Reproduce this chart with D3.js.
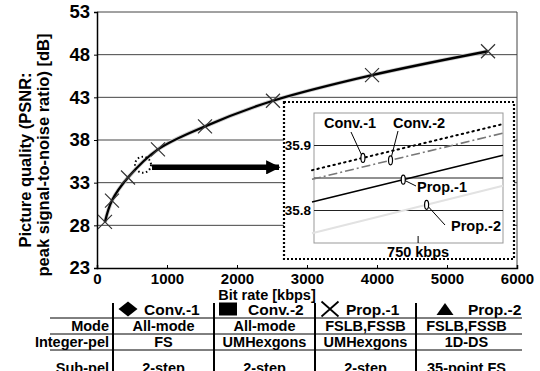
<!DOCTYPE html>
<html>
<head>
<meta charset="utf-8">
<script src="https://cdn.jsdelivr.net/npm/d3@7"></script>
<style>
  html, body { margin: 0; padding: 0; background: #fff; overflow: hidden; }
  svg { display: block; font-family: "Liberation Sans", Arial, sans-serif; font-weight: bold; }
</style>
</head>
<body>
<svg id="chart" width="540" height="371"></svg>
<script>
// main chart data (Prop.-1, the other curves overlap it at this scale)
const bitrate = [114, 214, 443, 871, 1543, 2514, 3929, 5586];
const psnr = [28.4, 30.9, 33.6, 36.9, 39.6, 42.6, 45.6, 48.4];
const yTicks = [23, 28, 33, 38, 43, 48, 53];
const xTicks = [0, 1000, 2000, 3000, 4000, 5000, 6000];

// inset: zoom around 750 kbps
const insetNames = ["Conv.-1", "Conv.-2", "Prop.-1", "Prop.-2"];
const insetRate = [700, 790];
const insetConv1 = [35.862, 35.933];
const insetConv2 = [35.848, 35.919];
const insetProp1 = [35.813, 35.885];
const insetProp2 = [35.765, 35.838];
const insetCallout = [724, 737, 743, 754];
const insetYTicks = [35.8, 35.9];
const insetGrid = [35.8, 35.85, 35.9];

// table under the chart
const tableHeads = ["Conv.-1", "Conv.-2", "Prop.-1", "Prop.-2"];
const rowLabels = ["Mode", "Integer-pel", "Sub-pel"];
const modeRow = ["All-mode", "All-mode", "FSLB,FSSB", "FSLB,FSSB"];
const integerRow = ["FS", "UMHexgons", "UMHexgons", "1D-DS"];
const subRow = ["2-step", "2-step", "2-step", "35-point FS"];

const svg = d3.select("#chart");

const x = d3.scaleLinear().domain([0, 6000]).range([97, 517]);
const y = d3.scaleLinear().domain([23, 53]).range([268, 12]);

// grid lines
svg.append("g").selectAll("line")
  .data(yTicks.slice(1))
  .enter().append("line")
  .attr("x1", x(0)).attr("x2", x(6000))
  .attr("y1", d => y(d)).attr("y2", d => y(d))
  .attr("stroke", "#444").attr("stroke-width", 1);

svg.append("line")
  .attr("x1", x(6000)).attr("x2", x(6000))
  .attr("y1", y(53)).attr("y2", y(23))
  .attr("stroke", "#444").attr("stroke-width", 1);

// y axis
const yAxis = svg.append("g")
  .attr("transform", "translate(" + x(0) + ",0)")
  .call(d3.axisLeft(y).tickValues(yTicks).tickSize(3).tickPadding(4));
yAxis.select(".domain").attr("stroke", "#000").attr("stroke-width", 1.5);
yAxis.selectAll("text").attr("font-size", 18.5).attr("font-family", "Liberation Sans").attr("font-weight", "bold").attr("fill", "#000");

// x axis, ticks point inward
const xAxis = svg.append("g")
  .attr("transform", "translate(0," + y(23) + ")")
  .call(d3.axisBottom(x).tickValues(xTicks).tickFormat(d3.format("d")).tickSize(-3).tickPadding(5));
xAxis.select(".domain").attr("stroke", "#000").attr("stroke-width", 1.5);
xAxis.selectAll("text").attr("font-size", 15).attr("font-family", "Liberation Sans").attr("font-weight", "bold").attr("fill", "#000");

// axis titles
svg.append("text")
  .attr("transform", "translate(25,160) rotate(-90)")
  .attr("text-anchor", "middle").attr("dy", "0.35em")
  .attr("font-size", 16.5)
  .text("Picture quality (PSNR:");
svg.append("text")
  .attr("transform", "translate(43,155) rotate(-90)")
  .attr("text-anchor", "middle").attr("dy", "0.35em")
  .attr("font-size", 16.5)
  .text("peak signal-to-noise ratio) [dB]");
svg.append("text")
  .attr("x", 267).attr("y", 300)
  .attr("text-anchor", "middle")
  .attr("font-size", 14.5)
  .text("Bit rate [kbps]");

// main curve
const pts = bitrate.map((b, i) => [b, psnr[i]]);
const line = d3.line()
  .x(d => x(d[0])).y(d => y(d[1]))
  .curve(d3.curveCatmullRom.alpha(0.5));

svg.append("path")
  .datum(pts)
  .attr("d", line)
  .attr("fill", "none")
  .attr("stroke", "#ccc").attr("stroke-width", 4);
svg.append("path")
  .datum(pts)
  .attr("d", line)
  .attr("fill", "none")
  .attr("stroke", "#000").attr("stroke-width", 2.3);

// X markers
const mk = 7;
svg.append("g").selectAll("path")
  .data(pts)
  .enter().append("path")
  .attr("d", d => {
    const cx = x(d[0]), cy = y(d[1]);
    return "M" + (cx - mk) + "," + (cy - mk) + "L" + (cx + mk) + "," + (cy + mk) +
      "M" + (cx - mk) + "," + (cy + mk) + "L" + (cx + mk) + "," + (cy - mk);
  })
  .attr("stroke", "#333").attr("stroke-width", 1.2).attr("fill", "none");

// dotted ellipse around 750 kbps and arrow to the inset
svg.append("ellipse")
  .attr("cx", x(657)).attr("cy", y(35.1))
  .attr("rx", 8).attr("ry", 8)
  .attr("fill", "none").attr("stroke", "#000")
  .attr("stroke-width", 2).attr("stroke-dasharray", "1.5,2.5");

svg.append("defs").append("marker")
  .attr("id", "arrow").attr("viewBox", "0 0 10 10")
  .attr("refX", 9).attr("refY", 5)
  .attr("markerWidth", 2.6).attr("markerHeight", 2.6)
  .attr("orient", "auto")
  .append("path").attr("d", "M0,0L10,5L0,10z").attr("fill", "#000");
svg.append("line")
  .attr("x1", x(786)).attr("y1", y(34.8))
  .attr("x2", x(2600)).attr("y2", y(34.8))
  .attr("stroke", "#000").attr("stroke-width", 5.5)
  .attr("marker-end", "url(#arrow)");

// ---- inset ----
const ix = d3.scaleLinear().domain(insetRate).range([312, 503]);
const iy = d3.scaleLinear().domain([35.75, 35.95]).range([243, 113]);

svg.append("rect")
  .attr("x", 284).attr("y", 102).attr("width", 230).attr("height", 157)
  .attr("fill", "#fff").attr("stroke", "#000")
  .attr("stroke-width", 2.2).attr("stroke-dasharray", "2,2");

svg.append("rect")
  .attr("x", 314).attr("y", 113).attr("width", 189).attr("height", 130)
  .attr("fill", "none").attr("stroke", "#999").attr("stroke-width", 1);

svg.append("g").selectAll("line")
  .data(insetGrid)
  .enter().append("line")
  .attr("x1", 314).attr("x2", 503)
  .attr("y1", d => iy(d)).attr("y2", d => iy(d))
  .attr("stroke", "#222").attr("stroke-width", 1);

svg.append("g").selectAll("text")
  .data(insetYTicks)
  .enter().append("text")
  .attr("x", 311).attr("y", d => iy(d))
  .attr("dy", "0.35em").attr("text-anchor", "end")
  .attr("font-size", 13.5)
  .text(d => d.toFixed(1));

svg.append("line")
  .attr("x1", ix(750)).attr("x2", ix(750))
  .attr("y1", 243).attr("y2", 236)
  .attr("stroke", "#000").attr("stroke-width", 1);
svg.append("text")
  .attr("x", ix(750)).attr("y", 257)
  .attr("text-anchor", "middle").attr("font-size", 14.5)
  .text("750 kbps");

const insetVals = [insetConv1, insetConv2, insetProp1, insetProp2];
const insetStyle = [
  { stroke: "#000", width: 2, dash: "1.5,4", cap: "round" },
  { stroke: "#777", width: 1.6, dash: "9,3,2,3", cap: "butt" },
  { stroke: "#000", width: 1.6, dash: null, cap: "butt" },
  { stroke: "#e2e2e2", width: 2, dash: null, cap: "butt" }
];
const iline = d3.line().x(d => ix(d[0])).y(d => iy(d[1]));

insetVals.forEach((v, i) => {
  svg.append("path")
    .datum(insetRate.map((r, j) => [r, v[j]]))
    .attr("d", iline)
    .attr("fill", "none")
    .attr("stroke", insetStyle[i].stroke)
    .attr("stroke-width", insetStyle[i].width)
    .attr("stroke-linecap", insetStyle[i].cap)
    .attr("stroke-dasharray", insetStyle[i].dash);
});

// callouts
const valAt = (v, r) => v[0] + (v[1] - v[0]) * (r - insetRate[0]) / (insetRate[1] - insetRate[0]);
const callPts = insetVals.map((v, i) => [ix(insetCallout[i]), iy(valAt(v, insetCallout[i]))]);

const labelPos = [
  { tx: 350, ty: 128, anchor: "middle", lx: 351, ly: 132 },
  { tx: 419, ty: 128, anchor: "middle", lx: 398, ly: 131 },
  { tx: 417, ty: 192, anchor: "start", lx: 416, ly: 186 },
  { tx: 451, ty: 231, anchor: "start", lx: 445, ly: 225 }
];

callPts.forEach((p, i) => {
  const lp = labelPos[i];
  svg.append("line")
    .attr("x1", lp.lx).attr("y1", lp.ly)
    .attr("x2", p[0]).attr("y2", p[1])
    .attr("stroke", "#000").attr("stroke-width", 1);
  svg.append("ellipse")
    .attr("cx", p[0]).attr("cy", p[1])
    .attr("rx", 2).attr("ry", 4.5)
    .attr("fill", "#fff").attr("stroke", "#000").attr("stroke-width", 1.2);
  svg.append("text")
    .attr("x", lp.tx).attr("y", lp.ty)
    .attr("text-anchor", lp.anchor).attr("font-size", 14.5)
    .text(insetNames[i]);
});

// ---- table ----
const col = d3.scaleBand().domain(tableHeads).range([113, 517]);
const rowNames = ["head"].concat(rowLabels);
const rowBase = d3.scaleOrdinal().domain(rowNames).range([315, 331, 347, 373]);
const rowLine = [318, 334, 350];

// separators
svg.append("g").selectAll("line")
  .data(tableHeads)
  .enter().append("line")
  .attr("x1", d => col(d)).attr("x2", d => col(d))
  .attr("y1", 303).attr("y2", 371)
  .attr("stroke", "#000").attr("stroke-width", 2);

svg.append("g").selectAll("line")
  .data(rowLine)
  .enter().append("line")
  .attr("x1", 50).attr("x2", 522)
  .attr("y1", d => d).attr("y2", d => d)
  .attr("stroke", "#000").attr("stroke-width", 1);

// header markers + labels
const headMarkOff = [15, 14, 15, 29];
const headTextOff = [31, 34, 31, 52];
tableHeads.forEach((h, i) => {
  const mx = col(h) + headMarkOff[i];
  const my = rowBase("head") - 6;
  const g = svg.append("g");
  if (i === 0) {
    g.append("path").attr("d", "M" + (mx - 9.5) + "," + my + "L" + mx + "," + (my - 7.5) + "L" + (mx + 9.5) + "," + my + "L" + mx + "," + (my + 7.5) + "Z").attr("fill", "#000");
  } else if (i === 1) {
    g.append("rect").attr("x", mx - 9).attr("y", my - 6.5).attr("width", 18).attr("height", 13).attr("fill", "#000");
  } else if (i === 2) {
    g.append("path").attr("d", "M" + (mx - 8.5) + "," + (my - 7.5) + "L" + (mx + 8.5) + "," + (my + 7.5) + "M" + (mx - 8.5) + "," + (my + 7.5) + "L" + (mx + 8.5) + "," + (my - 7.5)).attr("stroke", "#000").attr("stroke-width", 1.8);
  } else {
    g.append("path").attr("d", "M" + (mx - 8.5) + "," + (my + 6) + "L" + mx + "," + (my - 6) + "L" + (mx + 8.5) + "," + (my + 6) + "Z").attr("fill", "#000");
  }
  svg.append("text")
    .attr("x", col(h) + headTextOff[i]).attr("y", rowBase("head"))
    .attr("font-size", 15.5)
    .text(h);
});

const rows = [modeRow, integerRow, subRow];
rowLabels.forEach((r, ri) => {
  svg.append("text")
    .attr("x", 109).attr("y", rowBase(r))
    .attr("text-anchor", "end").attr("font-size", 14.5)
    .text(r);
  svg.append("g").selectAll("text")
    .data(rows[ri])
    .enter().append("text")
    .attr("x", (d, i) => col(tableHeads[i]) + col.bandwidth() / 2)
    .attr("y", rowBase(r))
    .attr("text-anchor", "middle").attr("font-size", 14.5)
    .text(d => d);
});
</script>
</body>
</html>
